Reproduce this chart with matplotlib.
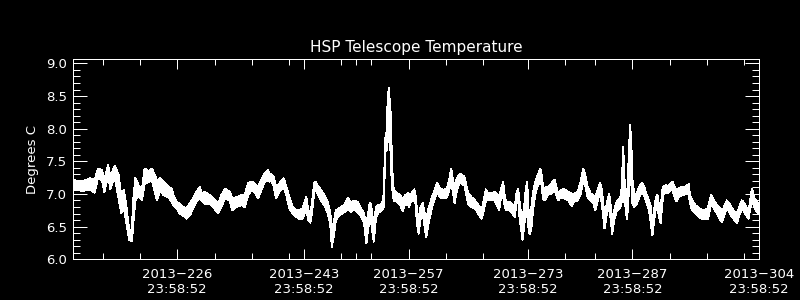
import numpy as np
import matplotlib
matplotlib.use("Agg")
import matplotlib.pyplot as plt
from matplotlib.ticker import MultipleLocator

# day of year 2013 (ticks read 23:58:52), band low / high edge of the trace (deg C)
day = [212.00, 212.13, 213.24, 214.36, 214.94, 215.38, 215.92, 216.23, 216.72, 217.03,
       217.61, 218.15, 218.50, 218.82, 219.13, 219.57, 219.93, 220.06, 220.38, 220.82,
       221.27, 221.63, 222.16, 222.61, 223.27, 223.72, 224.17, 224.83, 225.28, 225.46,
       225.90, 226.35, 226.79, 227.24, 227.68, 228.13, 228.58, 229.02, 229.25, 229.69,
       230.36, 230.81, 231.47, 231.92, 232.37, 233.03, 233.39, 233.93, 234.60, 235.04,
       235.49, 235.93, 236.38, 236.82, 237.27, 237.72, 238.16, 238.38, 238.57, 238.92,
       239.23, 239.68, 240.26, 240.57, 241.02, 241.46, 241.91, 242.36, 242.80, 243.11,
       243.29, 243.56, 243.83, 244.05, 244.36, 244.50, 244.81, 245.25, 245.70, 246.14,
       246.50, 246.72, 246.95, 247.26, 247.71, 248.37, 248.91, 249.27, 249.71, 250.16,
       250.60, 251.05, 251.36, 251.44, 251.76, 251.89, 252.02, 252.33, 252.65, 253.00,
       253.45, 253.67, 253.89, 254.03, 254.16, 254.34, 254.47, 254.61, 254.79, 255.01,
       255.46, 255.90, 256.21, 256.57, 256.93, 257.10, 257.24, 257.77, 257.91, 258.13,
       258.35, 258.58, 258.89, 259.16, 259.38, 259.69, 260.14, 260.58, 260.81, 261.25,
       261.70, 262.14, 262.45, 262.72, 262.95, 263.17, 263.48, 263.93, 264.37,
       264.46, 264.69, 265.00, 265.44, 265.89, 266.34, 266.78, 267.09, 267.36, 267.67,
       268.12, 268.57, 269.14, 269.32, 269.68, 269.90, 270.13, 270.57, 270.93, 271.24,
       271.46, 271.69, 271.91, 272.13, 272.27, 272.49, 272.71, 272.89, 273.11, 273.25,
       273.47, 273.69, 273.92, 274.23, 274.67, 274.81, 275.03, 275.25, 275.48, 275.83,
       276.14, 276.59, 276.81, 277.04, 277.26, 277.70, 277.88, 278.41, 278.90, 279.12,
       279.66, 280.02, 280.42, 280.64, 281.00, 281.44, 281.80, 282.02, 282.42, 282.69,
       282.91, 283.14, 283.27, 283.58, 283.89, 284.12, 284.30, 284.56, 284.92, 285.37,
       285.59, 285.77, 285.90, 286.08, 286.26, 286.44, 286.61, 286.70, 286.84, 287.02,
       287.24, 287.60, 287.91, 288.26, 288.58, 288.93, 289.24, 289.47, 289.69, 289.91,
       290.14, 290.27, 290.36, 290.58, 290.80, 290.99, 291.21, 291.52, 291.79, 292.10,
       292.41, 292.55, 292.90, 293.21, 293.66, 294.11, 294.55, 294.69, 295.00, 295.44,
       295.89, 296.56, 297.14, 297.32, 297.58, 297.90, 298.34, 298.79, 299.01, 299.37,
       299.68, 299.99, 300.35, 300.71, 301.02, 301.33, 301.69, 302.04, 302.36, 302.58,
       302.80, 303.02, 303.38, 303.69, 303.98]

temp_lo = [7.06, 7.06, 7.05, 7.06, 7.02, 7.26, 7.21, 7.03, 7.29, 7.08,
           7.26, 6.93, 6.70, 6.80, 6.60, 6.29, 6.28, 6.49, 6.90, 6.98,
           6.90, 7.16, 7.18, 7.21, 6.90, 7.06, 6.98, 6.95, 6.88, 6.83,
           6.78, 6.70, 6.67, 6.62, 6.67, 6.78, 6.88, 6.95, 6.90, 6.85,
           6.85, 6.80, 6.70, 6.80, 6.93, 6.90, 6.75, 6.80, 6.83, 6.80,
           6.98, 7.06, 7.03, 6.93, 7.06, 7.19, 7.21, 7.19, 7.21, 7.13,
           6.94, 7.03, 7.11, 7.01, 6.78, 6.70, 6.65, 6.62, 6.62, 6.72,
           6.78, 6.60, 6.56, 6.70, 7.03, 7.06, 7.01, 6.90, 6.83, 6.72,
           6.55, 6.19, 6.34, 6.60, 6.67, 6.72, 6.78, 6.72, 6.78, 6.72,
           6.67, 6.55, 6.24, 6.34, 6.60, 6.60, 6.55, 6.27, 6.65, 6.72,
           6.75, 6.80, 7.67, 7.65, 7.72, 8.28, 8.23, 7.52, 7.10, 6.90,
           6.88, 6.83, 6.74, 6.85, 6.83, 6.80, 6.88, 6.90, 6.88, 6.55,
           6.39, 6.60, 6.73, 6.49, 6.34, 6.55, 6.80, 6.95, 7.03, 6.95,
           6.93, 6.95, 7.06, 7.16, 7.03, 6.86, 7.06, 7.19, 7.13,
           7.16, 7.03, 6.85, 6.80, 6.78, 6.70, 6.62, 6.75, 6.90, 6.90,
           6.90, 6.90, 6.75, 6.90, 6.98, 6.80, 6.75, 6.75, 6.70, 6.65,
           6.85, 6.93, 6.60, 6.44, 6.30, 6.49, 6.80, 6.70, 6.44, 6.38,
           6.49, 6.75, 6.95, 7.11, 7.21, 7.16, 6.93, 6.90, 6.95, 7.00,
           7.00, 7.06, 6.98, 6.90, 6.93, 6.93, 6.93, 6.90, 6.81, 6.88,
           6.90, 6.98, 7.21, 7.16, 6.95, 6.90, 6.85, 6.75, 6.93, 7.01,
           6.85, 6.60, 6.47, 6.70, 6.80, 6.60, 6.39, 6.60, 6.75, 6.78,
           6.90, 7.11, 6.90, 6.80, 6.62, 6.80, 7.41, 7.82, 7.21, 6.85,
           6.80, 6.85, 6.95, 7.03, 6.98, 6.85, 6.75, 6.55, 6.37, 6.60,
           6.78, 6.83, 6.80, 6.65, 6.55, 6.85, 7.01, 7.01, 7.01, 7.06,
           7.06, 6.98, 6.89, 6.95, 6.98, 7.00, 7.00, 6.88, 6.75, 6.70,
           6.65, 6.61, 6.62, 6.72, 6.88, 6.78, 6.70, 6.60, 6.57, 6.70,
           6.78, 6.72, 6.65, 6.60, 6.56, 6.67, 6.78, 6.72, 6.65, 6.62,
           6.78, 6.88, 6.80, 6.72, 6.70]

temp_hi = [7.20, 7.21, 7.19, 7.24, 7.21, 7.39, 7.36, 7.21, 7.44, 7.26,
           7.43, 7.29, 6.95, 7.06, 6.85, 6.44, 6.44, 6.85, 7.24, 7.13,
           7.06, 7.39, 7.34, 7.39, 7.21, 7.24, 7.18, 7.11, 7.08, 6.98,
           6.88, 6.85, 6.80, 6.78, 6.85, 6.93, 7.03, 7.11, 7.01, 7.03,
           6.98, 6.93, 6.85, 6.98, 7.08, 7.03, 6.93, 6.95, 6.98, 6.98,
           7.16, 7.19, 7.16, 7.11, 7.21, 7.31, 7.36, 7.31, 7.31, 7.26,
           7.11, 7.16, 7.24, 7.13, 6.95, 6.80, 6.75, 6.75, 6.78, 6.88,
           6.96, 6.75, 6.70, 6.85, 7.16, 7.19, 7.13, 7.06, 6.98, 6.88,
           6.72, 6.44, 6.55, 6.75, 6.78, 6.83, 6.94, 6.85, 6.90, 6.88,
           6.78, 6.70, 6.44, 6.60, 6.83, 6.86, 6.80, 6.50, 6.80, 6.83,
           6.85, 7.00, 7.85, 7.90, 8.31, 8.62, 8.44, 8.23, 7.41, 7.06,
           7.01, 6.98, 6.90, 6.98, 7.01, 6.98, 6.98, 7.07, 7.01, 6.75,
           6.60, 6.78, 6.86, 6.70, 6.60, 6.78, 6.95, 7.08, 7.17, 7.08,
           7.06, 7.08, 7.21, 7.39, 7.21, 7.11, 7.24, 7.31, 7.26,
           7.27, 7.16, 7.01, 6.95, 6.90, 6.83, 6.75, 6.90, 7.07, 7.01,
           7.01, 7.03, 6.96, 7.03, 7.19, 6.95, 6.88, 6.88, 6.83, 6.80,
           7.01, 7.08, 6.85, 6.65, 6.60, 6.80, 7.06, 7.19, 6.70, 6.60,
           6.80, 7.01, 7.16, 7.26, 7.39, 7.31, 7.11, 7.06, 7.11, 7.11,
           7.16, 7.22, 7.11, 7.01, 7.03, 7.08, 7.07, 7.03, 7.00, 7.00,
           7.03, 7.16, 7.39, 7.31, 7.11, 7.00, 6.98, 6.95, 7.08, 7.17,
           7.06, 6.80, 6.70, 6.85, 7.00, 6.80, 6.60, 6.75, 6.88, 6.93,
           7.11, 7.72, 7.31, 7.00, 6.85, 7.36, 7.82, 8.05, 7.82, 7.21,
           7.00, 7.00, 7.11, 7.17, 7.11, 6.98, 6.90, 6.80, 6.55, 6.75,
           6.93, 6.98, 6.98, 6.80, 6.75, 7.06, 7.12, 7.13, 7.11, 7.16,
           7.19, 7.13, 7.06, 7.08, 7.11, 7.11, 7.15, 7.00, 6.90, 6.83,
           6.78, 6.75, 6.78, 6.88, 6.99, 6.90, 6.83, 6.78, 6.72, 6.83,
           6.90, 6.85, 6.78, 6.72, 6.70, 6.80, 6.90, 6.85, 6.78, 6.72,
           6.90, 7.08, 6.93, 6.88, 6.85]

tick_days = [226, 243, 257, 273, 287, 304]
tick_labels = ["2013\u2212%d\n23:58:52" % d for d in tick_days]
minor_days = [216, 221, 231, 236, 241, 248, 250, 252, 262, 267, 278, 282, 292, 297, 302]

plt.rcParams['lines.antialiased'] = False
plt.rcParams['patch.antialiased'] = False

fig = plt.figure(figsize=(8, 3), dpi=100, facecolor='black')
ax = fig.add_axes([0.091, 0.136, 0.858, 0.667], facecolor='black')

# noisy trace drawn as a band between the low and high edges
ax.fill_between(day, temp_lo, temp_hi, color='white', linewidth=0)
ax.plot(day, temp_lo, color='white', lw=0.7)
ax.plot(day, temp_hi, color='white', lw=0.7)

ax.set_xlim(212, 304)
ax.set_ylim(6.0, 9.066)

ax.set_xticks(tick_days)
ax.set_xticklabels(tick_labels)
ax.set_xticks(minor_days, minor=True)
ax.set_yticks([6.0, 6.5, 7.0, 7.5, 8.0, 8.5, 9.0])
ax.set_yticklabels(["6.0", "6.5", "7.0", "7.5", "8.0", "8.5", "9.0"])
ax.yaxis.set_minor_locator(MultipleLocator(0.1))

for s in ax.spines.values():
    s.set_color('white')
    s.set_linewidth(0.72)

ax.tick_params(axis='both', which='both', direction='in', colors='white',
               top=True, right=True, width=0.72, labelsize=9.5)
ax.tick_params(axis='y', which='major', length=10, pad=4)
ax.tick_params(axis='y', which='minor', length=5)
ax.tick_params(axis='x', which='major', length=7, pad=6)
ax.tick_params(axis='x', which='minor', length=4)

ax.set_ylabel('Degrees C', color='white', fontsize=9.5, labelpad=5)
ax.set_title('HSP Telescope Temperature', color='white', fontsize=11, pad=5)

fig.savefig('out.png', dpi=100, facecolor='black')
